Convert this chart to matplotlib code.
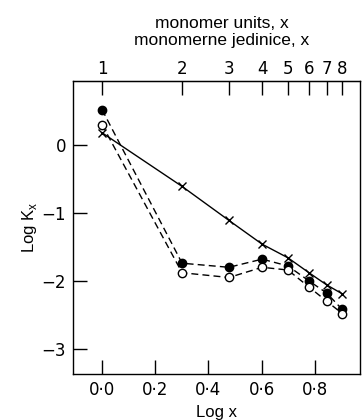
import numpy as np
import matplotlib.pyplot as plt

monomers = [1, 2, 3, 4, 5, 6, 7, 8]
logk_filled = [0.52, -1.74, -1.80, -1.68, -1.78, -2.00, -2.18, -2.42]
logk_open = [0.30, -1.88, -1.95, -1.80, -1.84, -2.09, -2.30, -2.48]
logk_cross = [0.18, -0.61, -1.11, -1.46, -1.66, -1.88, -2.06, -2.19]
bottom_ticks = [0.0, 0.2, 0.4, 0.6, 0.8]
bottom_labels = ["0·0", "0·2", "0·4", "0·6", "0·8"]
y_ticks = [0, -1, -2, -3]
y_labels = ["0", "\u22121", "\u22122", "\u22123"]

logx = np.log10(monomers)

fig = plt.figure(figsize=(3.62, 4.20), dpi=100)
ax = fig.add_axes([0.2017, 0.1095, 0.7928, 0.6975])

tickfont = dict(family=["Liberation Sans Narrow", "DejaVu Sans"], size=12)

ax.plot(logx, logk_cross, color="black", lw=1.0, marker="x", ms=6, mew=1.0)
ax.plot(logx, logk_filled, color="black", lw=1.0, ls=(0, (5, 3)), marker="o",
        ms=6, mfc="black", mec="black")
ax.plot(logx, logk_open, color="black", lw=1.0, ls=(0, (5, 3)), marker="o",
        ms=6, mfc="white", mec="black", mew=1.0)

ax.set_xlim(-0.109, 0.97)
ax.set_ylim(-3.37, 0.94)

ax.set_xticks(bottom_ticks)
ax.set_xticklabels(bottom_labels, **tickfont)
ax.set_yticks(y_ticks)
ax.set_yticklabels(y_labels, **tickfont)
ax.tick_params(direction="in", length=10, width=1.0, pad=5)

secx = ax.secondary_xaxis("top", functions=(lambda v: 10 ** v, np.log10))
secx.set_xticks(monomers)
secx.set_xticklabels([str(m) for m in monomers], **tickfont)
secx.tick_params(direction="in", length=10, width=1.0, pad=2)

for s in ax.spines.values():
    s.set_linewidth(1.0)

ax.set_xlabel("Log x", family="Liberation Sans", size=12, labelpad=4)
ax.set_ylabel("Log K$_\\mathregular{x}$", family="Liberation Sans", size=12, labelpad=2)
fig.text(0.613, 0.924, "monomer units, x\nmonomerne jedinice, x", ha="center",
         va="center", family="Liberation Sans", size=12.5, linespacing=1.15)

fig.savefig("out.png", dpi=100)
